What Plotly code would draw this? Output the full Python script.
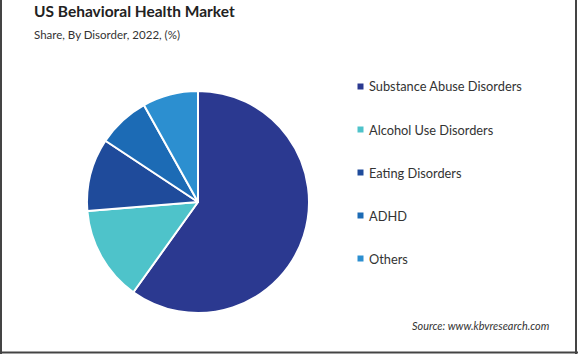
import plotly.graph_objects as go

W, H = 578, 354

labels = ["Substance Abuse Disorders", "Alcohol Use Disorders", "Eating Disorders", "ADHD", "Others"]
values = [59.9, 13.8, 10.6, 7.6, 8.1]
colors = ["#2B3990", "#4EC3CA", "#1F4B9B", "#1C6BB5", "#2C8FD0"]

title = "US Behavioral Health Market"
subtitle = "Share, By Disorder, 2022, (%)"
source = "Source: www.kbvresearch.com"

FONT = "Lato, 'Open Sans', sans-serif"

def px(x):
    return x / W

def py(y):
    return 1 - y / H

fig = go.Figure()
fig.add_trace(go.Pie(
    labels=labels, values=values, sort=False, direction="clockwise", rotation=0,
    marker=dict(colors=colors, line=dict(color="white", width=2)),
    textinfo="none", hoverinfo="label+percent", showlegend=False,
    domain=dict(x=[px(87), px(309)], y=[py(313), py(91)]),
))

annotations = [
    dict(text="<b>" + title + "</b>", x=px(32), y=py(22), xref="paper", yref="paper",
         xanchor="left", yanchor="bottom", showarrow=False,
         font=dict(family=FONT, size=15.5, color="#222")),
    dict(text=subtitle, x=px(32), y=py(43), xref="paper", yref="paper",
         xanchor="left", yanchor="bottom", showarrow=False,
         font=dict(family=FONT, size=11.5, color="#333")),
    dict(text="<i>" + source + "</i>", x=px(552), y=py(325), xref="paper", yref="paper",
         xanchor="right", yanchor="middle", showarrow=False,
         font=dict(family=FONT, size=10.9, color="#333")),
]
shapes = []
row0, gap = 86.5, 43
for i, (lab, col) in enumerate(zip(labels, colors)):
    yc = row0 + i * gap
    annotations.append(dict(text=lab, x=px(367), y=py(yc), xref="paper", yref="paper",
                            xanchor="left", yanchor="middle", showarrow=False,
                            font=dict(family=FONT, size=12.8, color="#333")))
    shapes.append(dict(type="rect", xref="paper", yref="paper",
                       x0=px(357.5), x1=px(363.5), y0=py(yc + 3), y1=py(yc - 3),
                       fillcolor=col, line=dict(width=0)))

# frame
for x0, y0, x1, y1 in [(1, 0, 1, H), (W - 2, 0, W - 2, H), (0, H - 1.5, W, H - 1.5)]:
    shapes.append(dict(type="line", xref="paper", yref="paper",
                       x0=px(x0), y0=py(y0), x1=px(x1), y1=py(y1),
                       line=dict(color="#444", width=2)))

fig.update_layout(
    width=W, height=H, margin=dict(l=0, r=0, t=0, b=0),
    paper_bgcolor="white", plot_bgcolor="white",
    annotations=annotations, shapes=shapes, showlegend=False,
)
fig.write_html("out.html")
